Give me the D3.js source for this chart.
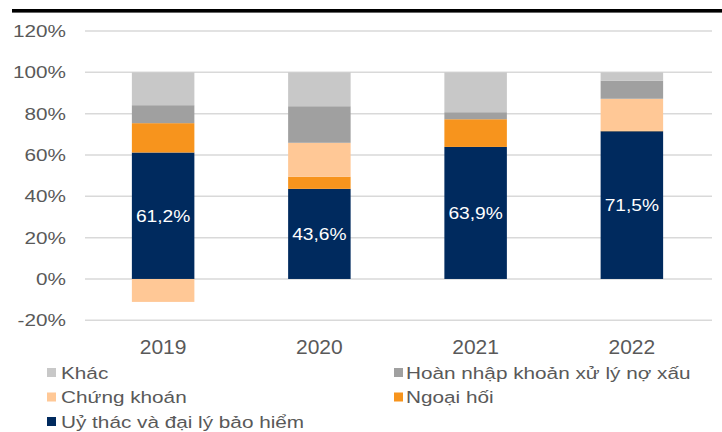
<!DOCTYPE html>
<html>
<head>
<meta charset="utf-8">
<script src="https://cdn.jsdelivr.net/npm/d3@7"></script>
<style>
  body { margin: 0; background: #fff; }
  svg { display: block; font-family: "Liberation Sans", Arial, sans-serif; }
</style>
</head>
<body>
<svg id="chart"></svg>
<script>
// data (percent)
const years = ["2019", "2020", "2021", "2022"];
const uyThac = [61.2, 43.6, 63.9, 71.5];
const ngoaiHoi = [14.2, 5.9, 13.4, 0.3];
const chungKhoan = [-11.1, 16.4, 0, 15.4];
const hoanNhap = [8.7, 17.7, 3.4, 8.8];
const khac = [15.9, 16.4, 19.3, 4.0];
const yTicks = [-20, 0, 20, 40, 60, 80, 100, 120];

const seriesNames = ["Uỷ thác và đại lý bảo hiểm", "Ngoại hối", "Chứng khoán", "Hoàn nhập khoản xử lý nợ xấu", "Khác"];
const seriesKeys = ["uyThac", "ngoaiHoi", "chungKhoan", "hoanNhap", "khac"];
const colors = ["#002a5e", "#f7941d", "#ffc896", "#a0a0a0", "#c8c8c8"];

const W = 722, H = 432;
const svg = d3.select("#chart").attr("width", W).attr("height", H);

// table for d3.stack
const table = years.map((y, i) => ({
  year: y,
  uyThac: uyThac[i], ngoaiHoi: ngoaiHoi[i], chungKhoan: chungKhoan[i],
  hoanNhap: hoanNhap[i], khac: khac[i]
}));

const x = d3.scaleBand().domain(years).range([85, 710])
  .paddingInner(0.6).paddingOuter(0.3);
const y = d3.scaleLinear().domain([-20, 120]).range([320.3, 31]);

// top black rule
svg.append("rect")
  .attr("x", 12).attr("y", 9).attr("width", W - 12).attr("height", 3.6)
  .attr("fill", "#000");

// gridlines
svg.append("g").selectAll("line")
  .data(yTicks)
  .join("line")
    .attr("x1", 85).attr("x2", 712)
    .attr("y1", d => y(d)).attr("y2", d => y(d))
    .attr("stroke", "#d9d9d9").attr("stroke-width", 1.5);

// y labels (source text looks horizontally stretched)
svg.append("g").selectAll("text")
  .data(yTicks)
  .join("text")
    .attr("transform", d => `translate(66,${y(d) + 6}) scale(1.22,1)`)
    .attr("text-anchor", "end")
    .attr("font-size", 17)
    .attr("fill", "#595959")
    .text(d => d + "%");

// stacked bars
const stack = d3.stack().keys(seriesKeys).offset(d3.stackOffsetDiverging);
const stacked = stack(table);

svg.append("g").selectAll("g")
  .data(stacked)
  .join("g")
    .attr("fill", (d, i) => colors[i])
  .selectAll("rect")
  .data(d => d)
  .join("rect")
    .attr("x", d => x(d.data.year))
    .attr("width", x.bandwidth())
    .attr("y", d => y(Math.max(d[0], d[1])))
    .attr("height", d => Math.abs(y(d[0]) - y(d[1])));

// labels on the navy segment
svg.append("g").selectAll("text")
  .data(table)
  .join("text")
    .attr("transform", d => `translate(${x(d.year) + x.bandwidth() / 2},${y(d.uyThac / 2) + 6}) scale(1.13,1)`)
    .attr("text-anchor", "middle")
    .attr("font-size", 17)
    .attr("fill", "#fff")
    .text(d => d.uyThac.toFixed(1).replace(".", ",") + "%");

// year labels
svg.append("g").selectAll("text")
  .data(years)
  .join("text")
    .attr("x", d => x(d) + x.bandwidth() / 2)
    .attr("y", 354)
    .attr("text-anchor", "middle")
    .attr("font-size", 21)
    .attr("fill", "#595959")
    .text(d => d);

// legend
const legendItems = [
  { name: seriesNames[4], color: colors[4], sx: 47, tx: 61, row: 0 },
  { name: seriesNames[3], color: colors[3], sx: 394, tx: 406, row: 0 },
  { name: seriesNames[2], color: colors[2], sx: 47, tx: 61, row: 1 },
  { name: seriesNames[1], color: colors[1], sx: 394, tx: 406, row: 1 },
  { name: seriesNames[0], color: colors[0], sx: 47, tx: 61, row: 2 }
];

const legend = svg.append("g");
legend.selectAll("rect")
  .data(legendItems)
  .join("rect")
    .attr("x", d => d.sx)
    .attr("y", d => 368 + d.row * 24.5)
    .attr("width", 9).attr("height", 9)
    .attr("fill", d => d.color);

legend.selectAll("text")
  .data(legendItems)
  .join("text")
    .attr("transform", d => `translate(${d.tx},${378.5 + d.row * 24.5}) scale(1.22,1)`)
    .attr("font-size", 17)
    .attr("fill", "#595959")
    .text(d => d.name);
</script>
</body>
</html>
